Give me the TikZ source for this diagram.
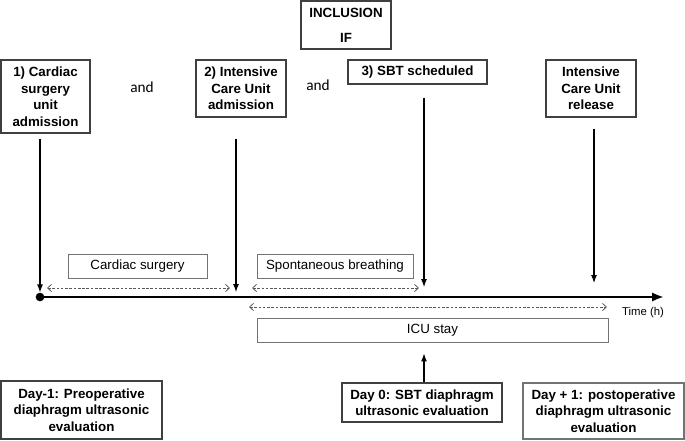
\documentclass[tikz,border=0pt]{standalone}
\usepackage{fontspec}
\setmainfont{Liberation Sans}
\newfontfamily\andfont{Carlito}
\usetikzlibrary{arrows.meta}
\begin{document}
\begin{tikzpicture}[x=0.75pt,y=-0.75pt,
  box/.style={draw=black!75, line width=0.8pt, inner sep=0pt, align=center,
    font=\bfseries\fontsize{10}{12.4}\selectfont},
  lbox/.style={draw=black!55, line width=0.7pt, inner sep=0pt, align=center,
    font=\fontsize{10}{12}\selectfont},
  sz/.style 2 args={minimum width=#1*0.75pt, minimum height=#2*0.75pt},
  varr/.style={draw=black, line width=0.8pt, -{Latex[length=6pt,width=4.5pt]}},
  darr/.style={draw=black!65, line width=0.6pt, dash pattern=on 2pt off 1.2pt,
    {Straight Barb[length=3pt,width=5.5pt]}-{Straight Barb[length=3pt,width=5.5pt]}},
  andtxt/.style={font=\andfont\fontsize{11.5}{13}\selectfont}
]
\useasboundingbox (0,0) rectangle (685,440);

% top boxes
\node[box, sz={90}{48}] (incl) at (346,25) {INCLUSION\\[6.5pt]IF};
\node[box, sz={89}{73}] (b1) at (45.5,96.5) {1) Cardiac\\surgery\\unit\\admission};
\node[box, sz={90}{57}] (b2) at (241,88.5) {2) Intensive\\Care Unit\\admission};
\node[box, sz={139}{24}] (b3) at (417.5,72) {3) SBT scheduled};
\node[box, sz={90}{57}] (b4) at (591,88.5) {Intensive\\Care Unit\\release};
\node[andtxt] (and1) at (142,87) {and};
\node[andtxt] (and2) at (318,85) {and};

% timeline
\node[circle, fill=black, inner sep=0pt, minimum size=6.5pt] (dot) at (40,297) {};
\coordinate (tend) at (664,297);
\draw[line width=2.2pt, -{Latex[length=9pt,width=7pt]}] (dot.center) -- (tend);

% vertical arrows
\coordinate (t2) at (236,292);
\coordinate (t3) at (424,287);
\coordinate (t4) at (594,283);
\draw[varr, shorten <=3.75pt] (b1.south -| dot) -- (dot.north);
\draw[varr, shorten <=15.75pt] (b2.south -| t2) -- (t2);
\draw[varr, shorten <=9.75pt] (b3.south -| t3) -- (t3);
\draw[varr, shorten <=8.25pt] (b4.south -| t4) -- (t4);

% period boxes
\node[lbox, sz={139}{24}] (cs) at (137.5,266) {Cardiac surgery};
\node[lbox, sz={156}{24}] (sb) at (335,266) {Spontaneous breathing};
\node[lbox, sz={351}{24}] (icu) at (432.5,330) {ICU stay};

% dashed spans
\coordinate (d1a) at (47,288);  \coordinate (d1b) at (230,288);
\coordinate (d2a) at (252,288); \coordinate (d2b) at (419,288);
\coordinate (d3a) at (249,307); \coordinate (d3b) at (607,307);
\draw[darr] (d1a) -- (d1b);
\draw[darr] (d2a) -- (d2b);
\draw[darr] (d3a) -- (d3b);

\node[font=\fontsize{8.5}{10}\selectfont] (time) at (643,313) {Time (h)};

% bottom boxes
\node[box, sz={161}{58}] (dm1) at (81.5,410) {Day-1: Preoperative\\diaphragm ultrasonic\\evaluation};
\node[box, sz={160}{39}] (d0) at (422,402.5) {Day 0: SBT diaphragm\\ultrasonic evaluation};
\node[box, draw=black!55, sz={161}{56}] (dp1) at (603.5,411) {Day + 1: postoperative\\diaphragm ultrasonic\\evaluation};

\coordinate (ux) at (424,0);
\draw[varr, shorten >=8.25pt] (d0.north -| ux) -- (icu.south -| ux);
\end{tikzpicture}
\end{document}
